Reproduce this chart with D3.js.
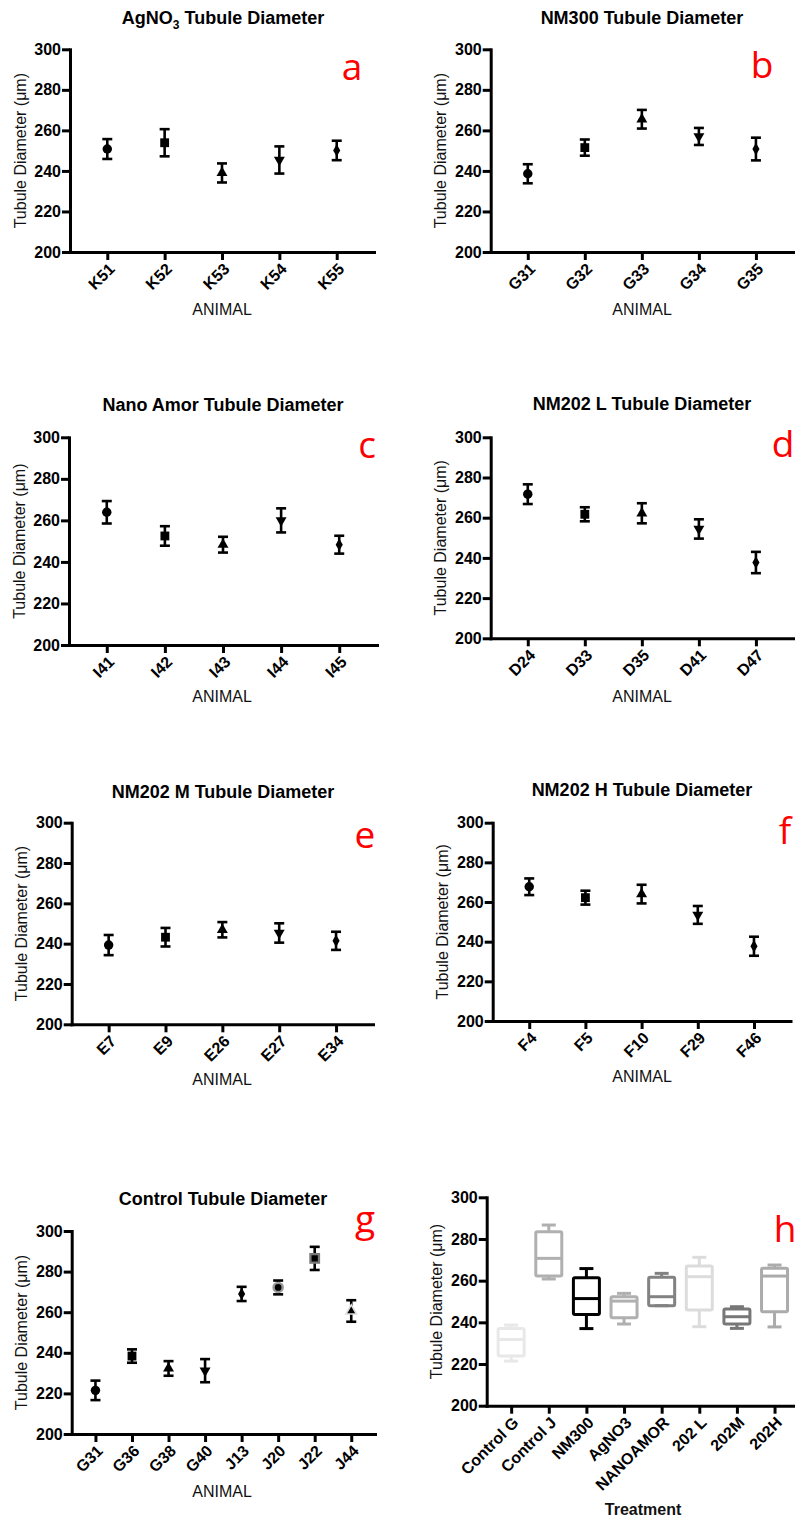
<!DOCTYPE html>
<html>
<head>
<meta charset="utf-8">
<script src="https://cdn.jsdelivr.net/npm/d3@7"></script>
<style>
  body { margin: 0; background: #fff; }
  svg { display: block; }
  text { font-family: "Liberation Sans", Arial, Helvetica, sans-serif; }
</style>
</head>
<body>
<svg id="fig" width="795" height="1519"></svg>
<script>
// ---------------- data: mean ± SEM tubule diameter per animal (µm) ----------------
const yTicks = [200, 220, 240, 260, 280, 300];

const agno3Animals = ["K51", "K52", "K53", "K54", "K55"];
const agno3Mean = [250.8, 253.9, 239.0, 245.4, 250.1];
const agno3Sem = [4.9, 6.7, 4.7, 6.7, 4.8];

const nm300Animals = ["G31", "G32", "G33", "G34", "G35"];
const nm300Mean = [238.6, 251.5, 265.5, 257.0, 250.8];
const nm300Sem = [4.7, 4.0, 4.6, 4.2, 5.6];

const nanoAmorAnimals = ["I41", "I42", "I43", "I44", "I45"];
const nanoAmorMean = [263.9, 252.5, 248.3, 260.0, 248.3];
const nanoAmorSem = [5.4, 4.7, 3.8, 5.8, 4.3];

const nm202LAnimals = ["D24", "D33", "D35", "D41", "D47"];
const nm202LMean = [271.7, 261.7, 262.2, 254.4, 237.7];
const nm202LSem = [4.9, 3.5, 5.0, 4.8, 5.3];

const nm202MAnimals = ["E7", "E9", "E26", "E27", "E34"];
const nm202MMean = [239.3, 243.2, 246.9, 245.3, 241.4];
const nm202MSem = [5.0, 4.6, 3.8, 4.8, 4.5];

const nm202HAnimals = ["F4", "F5", "F10", "F29", "F46"];
const nm202HMean = [267.7, 262.2, 264.0, 253.5, 237.7];
const nm202HSem = [4.2, 3.5, 4.7, 4.5, 4.8];

const controlAnimals = ["G31", "G36", "G38", "G40", "J13", "J20", "J22", "J44"];
const controlMean = [221.5, 238.4, 232.3, 231.2, 269.0, 272.2, 286.5, 260.6];
const controlSem = [4.8, 3.3, 3.6, 5.7, 3.5, 3.4, 5.7, 5.3];

// per-treatment box summaries (min, Q1, median, Q3, max)
const treatments = ["Control G", "Control J", "NM300", "AgNO3", "NANOAMOR", "202 L", "202M", "202H"];
const boxMin = [221.4, 260.8, 237.0, 239.2, 248.0, 237.9, 237.1, 237.8];
const boxQ1 = [223.8, 262.2, 243.8, 242.2, 248.0, 245.9, 239.2, 245.1];
const boxMedian = [231.8, 270.7, 251.4, 250.2, 252.3, 261.9, 242.7, 262.2];
const boxQ3 = [237.1, 283.5, 261.4, 252.3, 261.6, 267.0, 246.4, 265.9];
const boxMax = [238.7, 286.7, 265.8, 253.9, 263.5, 271.2, 247.5, 267.5];

// ---------------- drawing ----------------
const svg = d3.select("#fig");
svg.append("rect").attr("width", 795).attr("height", 1519).attr("fill", "#fff");

const shape5 = ["circle", "square", "triangle", "triangleDown", "diamond"];

function styleAxis(ax) {
  ax.attr("font-family", null).attr("font-size", null);
  ax.select(".domain").attr("stroke", "#000").attr("stroke-width", 3).attr("stroke-linecap", "square");
  ax.selectAll(".tick line").attr("stroke", "#000").attr("stroke-width", 3);
  ax.selectAll(".tick text")
    .attr("fill", "#000")
    .style("font-size", "16px")
    .style("font-weight", "bold")
    .style("font-family", '"Liberation Sans", Arial, sans-serif');
}

function frame(L) {
  const g = svg.append("g");
  const x = d3.scalePoint().domain(L.cats).range([L.left, L.right]).padding(0.65);
  const y = d3.scaleLinear().domain([200, 300]).range([L.bottom, L.top]);

  const ya = g.append("g").attr("transform", `translate(${L.left},0)`)
    .call(d3.axisLeft(y).tickValues(yTicks).tickSize(8).tickSizeOuter(0).tickPadding(1));
  styleAxis(ya);

  const xa = g.append("g").attr("transform", `translate(0,${L.bottom})`)
    .call(d3.axisBottom(x).tickSize(8).tickSizeOuter(0));
  styleAxis(xa);
  xa.selectAll(".tick text")
    .attr("x", 0).attr("y", 0).attr("dy", "0.35em")
    .attr("text-anchor", "end")
    .attr("transform", "translate(4,14) rotate(-45)");

  // y axis title
  g.append("text")
    .attr("transform", `translate(${L.left - 50},${(L.top + L.bottom) / 2}) rotate(-90)`)
    .attr("text-anchor", "middle").attr("dy", "0.35em")
    .style("font-size", "16px").attr("fill", "#111")
    .text("Tubule Diameter (\u03bcm)");

  // x axis title
  g.append("text")
    .attr("x", L.xTitleX).attr("y", L.xTitleY)
    .attr("text-anchor", "middle")
    .style("font-size", "16px")
    .style("font-weight", L.xTitleBold ? "bold" : "normal")
    .attr("fill", "#111")
    .text(L.xTitle);

  // panel title
  if (L.title) {
    const t = g.append("text")
      .attr("x", L.titleX).attr("y", L.titleY)
      .attr("text-anchor", "middle")
      .style("font-size", "18px").style("font-weight", "bold").attr("fill", "#000");
    L.title.forEach(part => {
      const s = t.append("tspan").text(part.t);
      if (part.sub) s.style("font-size", "12px").attr("dy", 5);
      else if (part.after) s.attr("dy", -5);
    });
  }

  // panel letter
  g.append("text")
    .attr("x", L.letterX).attr("y", L.letterY)
    .attr("text-anchor", "middle")
    .style("font-family", '"Open Sans", "Noto Sans", sans-serif')
    .style("font-size", "37px")
    .attr("fill", "#ff0000")
    .text(L.letter);

  return { g, x, y };
}

function symbolPath(kind, size) {
  const map = {
    circle: d3.symbolCircle,
    square: d3.symbolSquare,
    triangle: d3.symbolTriangle,
    triangleDown: d3.symbolTriangle,
    diamond: d3.symbolDiamond
  };
  return d3.symbol().type(map[kind]).size(size)();
}

const symbolSize = { circle: 70, square: 78, triangle: 52, triangleDown: 52, diamond: 44 };

function drawScatter(L, means, sems, shapes, fills) {
  const { g, x, y } = frame(L);
  const pts = L.cats.map((c, i) => ({ c, m: means[i], e: sems[i], s: shapes[i], f: fills ? fills[i] : null }));
  const bars = g.append("g").attr("stroke", "#000").attr("stroke-width", 2.6).attr("fill", "none");
  pts.forEach(p => {
    const cx = x(p.c), y1 = y(p.m + p.e), y0 = y(p.m - p.e);
    bars.append("line").attr("x1", cx).attr("x2", cx).attr("y1", y1).attr("y2", y0);
    bars.append("line").attr("x1", cx - 5).attr("x2", cx + 5).attr("y1", y1).attr("y2", y1);
    bars.append("line").attr("x1", cx - 5).attr("x2", cx + 5).attr("y1", y0).attr("y2", y0);
  });
  pts.forEach(p => {
    const rot = p.s === "triangleDown" ? " rotate(180)" : "";
    const tr = `translate(${x(p.c)},${y(p.m)})${rot}`;
    if (p.f) {
      // outlined variant: coloured outer symbol with a small black core
      g.append("path").attr("d", symbolPath(p.s, symbolSize[p.s] * 1.5)).attr("transform", tr).attr("fill", p.f);
      g.append("path").attr("d", symbolPath(p.s, symbolSize[p.s] * 0.5)).attr("transform", tr).attr("fill", "#000");
    } else {
      g.append("path").attr("d", symbolPath(p.s, symbolSize[p.s])).attr("transform", tr).attr("fill", "#000");
    }
  });
}

function drawBoxes(L, colors) {
  const { g, x, y } = frame(L);
  const bw = 26, cw = 14;
  treatments.forEach((t, i) => {
    const cx = x(t);
    const bg = g.append("g").attr("stroke", colors[i]).attr("stroke-width", 3).attr("fill", "none");
    bg.append("line").attr("x1", cx).attr("x2", cx).attr("y1", y(boxMax[i])).attr("y2", y(boxQ3[i]));
    bg.append("line").attr("x1", cx).attr("x2", cx).attr("y1", y(boxQ1[i])).attr("y2", y(boxMin[i]));
    bg.append("line").attr("x1", cx - cw / 2).attr("x2", cx + cw / 2).attr("y1", y(boxMax[i])).attr("y2", y(boxMax[i]));
    bg.append("line").attr("x1", cx - cw / 2).attr("x2", cx + cw / 2).attr("y1", y(boxMin[i])).attr("y2", y(boxMin[i]));
    bg.append("rect").attr("x", cx - bw / 2).attr("width", bw)
      .attr("y", y(boxQ3[i])).attr("height", y(boxQ1[i]) - y(boxQ3[i]))
      .attr("rx", 1.5);
    bg.append("line").attr("x1", cx - bw / 2).attr("x2", cx + bw / 2).attr("y1", y(boxMedian[i])).attr("y2", y(boxMedian[i]));
  });
}

// ---- panel a ----
drawScatter({
  cats: agno3Animals, left: 70, right: 374, top: 49.3, bottom: 252,
  title: [{ t: "AgNO" }, { t: "3", sub: true }, { t: " Tubule Diameter", after: true }],
  titleX: 223, titleY: 24, letter: "a", letterX: 352, letterY: 80,
  xTitle: "ANIMAL", xTitleX: 222, xTitleY: 315
}, agno3Mean, agno3Sem, shape5);

// ---- panel b ----
drawScatter({
  cats: nm300Animals, left: 490.7, right: 793, top: 49.3, bottom: 252,
  title: [{ t: "NM300 Tubule Diameter" }],
  titleX: 642, titleY: 24, letter: "b", letterX: 762, letterY: 78,
  xTitle: "ANIMAL", xTitleX: 642, xTitleY: 315
}, nm300Mean, nm300Sem, shape5);

// ---- panel c ----
drawScatter({
  cats: nanoAmorAnimals, left: 69, right: 377, top: 437.3, bottom: 645,
  title: [{ t: "Nano Amor Tubule Diameter" }],
  titleX: 223, titleY: 410.5, letter: "c", letterX: 367, letterY: 458,
  xTitle: "ANIMAL", xTitleX: 222, xTitleY: 702
}, nanoAmorMean, nanoAmorSem, shape5);

// ---- panel d ----
drawScatter({
  cats: nm202LAnimals, left: 490.7, right: 793, top: 437.3, bottom: 638.3,
  title: [{ t: "NM202 L Tubule Diameter" }],
  titleX: 642, titleY: 409.5, letter: "d", letterX: 783, letterY: 457,
  xTitle: "ANIMAL", xTitleX: 642, xTitleY: 702
}, nm202LMean, nm202LSem, shape5);

// ---- panel e ----
drawScatter({
  cats: nm202MAnimals, left: 71.7, right: 373, top: 822.7, bottom: 1024.3,
  title: [{ t: "NM202 M Tubule Diameter" }],
  titleX: 223, titleY: 797.5, letter: "e", letterX: 365, letterY: 848,
  xTitle: "ANIMAL", xTitleX: 222, xTitleY: 1085
}, nm202MMean, nm202MSem, shape5);

// ---- panel f ----
drawScatter({
  cats: nm202HAnimals, left: 492.7, right: 790.5, top: 822.7, bottom: 1021,
  title: [{ t: "NM202 H Tubule Diameter" }],
  titleX: 642, titleY: 796, letter: "f", letterX: 785, letterY: 844,
  xTitle: "ANIMAL", xTitleX: 642, xTitleY: 1082
}, nm202HMean, nm202HSem, shape5);

// ---- panel g ----
drawScatter({
  cats: controlAnimals, left: 71.7, right: 375, top: 1231, bottom: 1434,
  title: [{ t: "Control Tubule Diameter" }],
  titleX: 223, titleY: 1205, letter: "g", letterX: 365, letterY: 1232,
  xTitle: "ANIMAL", xTitleX: 222, xTitleY: 1497
}, controlMean, controlSem,
  ["circle", "square", "triangle", "triangleDown", "diamond", "circle", "square", "triangle"],
  [null, null, null, null, null, "#9a9a9a", "#7a7a7a", "#dedede"]);

// ---- panel h ----
drawBoxes({
  cats: treatments, left: 486.7, right: 799, top: 1197.3, bottom: 1405.7,
  title: null, letter: "h", letterX: 785, letterY: 1242,
  xTitle: "Treatment", xTitleBold: true, xTitleX: 643, xTitleY: 1515
}, ["#e8e8e8", "#b0b0b0", "#000000", "#b0b0b0", "#828282", "#dcdcdc", "#777777", "#ababab"]);
</script>
</body>
</html>
